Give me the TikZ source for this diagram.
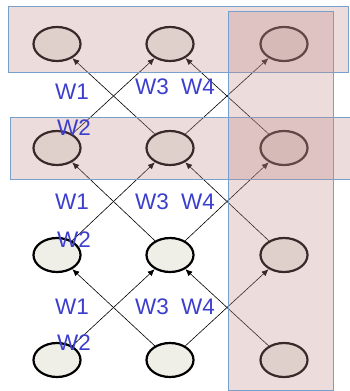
\documentclass[tikz,border=0pt]{standalone}
\usepackage{fontspec}
\setmainfont{Liberation Sans}
\usetikzlibrary{arrows.meta,shapes.geometric}
\definecolor{nodefill}{RGB}{239,239,232}
\definecolor{boxfill}{RGB}{192,138,138}
\definecolor{boxline}{RGB}{120,160,205}
\definecolor{wblue}{RGB}{60,62,205}
\tikzset{
  unit/.style={ellipse, draw=black, line width=2.2pt, fill=nodefill, minimum width=47pt, minimum height=34pt, inner sep=0pt},
  conn/.style={-{Latex[length=7pt,width=6pt]}, line width=0.6pt, black},
  groupbox/.style={draw=boxline, line width=0.8pt, fill=boxfill, fill opacity=0.3},
  wlab/.style={text=wblue, font=\fontsize{22.5}{24}\selectfont, inner sep=0pt}
}
\begin{document}
\begin{tikzpicture}[x=1pt,y=-1pt]
\useasboundingbox (0,0) rectangle (350,391);
% nodes
\foreach \r/\y in {1/44,2/148,3/255,4/360}{
  \foreach \c/\x in {1/57,2/170,3/284}{
    \node[unit] (n\r\c) at (\x,\y) {};
  }
}
% connectors
\foreach \r/\s in {1/2,2/3,3/4}{
  \draw[conn] (n\s1) -- (n\r2);
  \draw[conn] (n\s2) -- (n\r1);
  \draw[conn] (n\s2) -- (n\r3);
  \draw[conn] (n\s3) -- (n\r2);
}
% group boxes
\node[groupbox, minimum width=340pt, minimum height=66pt, inner sep=0pt] (b1) at (178,39) {};
\node[groupbox, minimum width=340pt, minimum height=62pt, inner sep=0pt] (b2) at (180,148) {};
\node[groupbox, minimum width=105pt, minimum height=379pt, inner sep=0pt] (b3) at (280.5,200.5) {};
% labels
\foreach \y/\yy/\yw in {92/128/87,202/240/202,307/343/307}{
  \node[wlab] at (72,\y) {W1};
  \node[wlab] at (74,\yy) {W2};
  \node[wlab] at (152,\yw) {W3};
  \node[wlab] at (198,\yw) {W4};
}
\end{tikzpicture}
\end{document}
